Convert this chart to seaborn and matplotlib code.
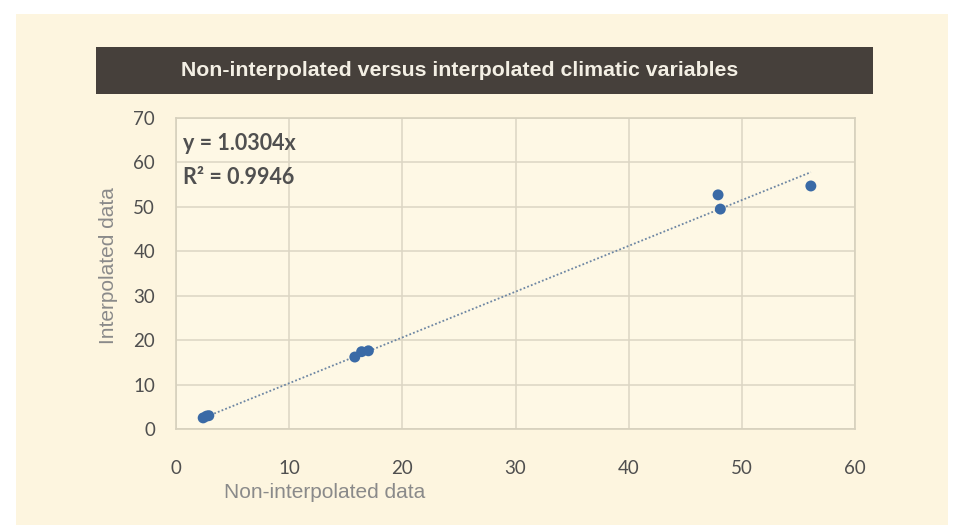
import matplotlib.pyplot as plt
import numpy as np
import pandas as pd
import seaborn as sns
from matplotlib.patches import Rectangle

# values
non_interp = [2.4, 2.7, 2.9, 15.8, 16.4, 17.0, 47.9, 48.1, 56.1]
interp = [2.5, 2.9, 3.0, 16.2, 17.4, 17.6, 52.7, 49.5, 54.7]
slope = 1.0304
r2 = 0.9946
x_ticks = [0, 10, 20, 30, 40, 50, 60]
y_ticks = [0, 10, 20, 30, 40, 50, 60, 70]

df = pd.DataFrame({'x': non_interp, 'y': interp})

sns.set_theme(style='whitegrid')
plt.rcParams['font.family'] = ['Lato', 'DejaVu Sans']

fig = plt.figure(figsize=(9.57, 5.25), dpi=100)
fig.patch.set_facecolor('white')

# cream page background
fig.patches.append(Rectangle((16 / 957, 0), 932 / 957, 511 / 525,
                             transform=fig.transFigure, facecolor='#fdf5df',
                             edgecolor='none', zorder=0))
# dark title bar
fig.patches.append(Rectangle((96 / 957, 431 / 525), 777 / 957, 47 / 525,
                             transform=fig.transFigure, facecolor='#46403b',
                             edgecolor='none', zorder=1))
fig.text(460 / 957, 454 / 525, 'Non-interpolated versus interpolated climatic variables',
         color='#f3efe4', fontsize=15.3, fontweight='bold', family='Liberation Sans',
         ha='center', va='center', zorder=2)

ax = fig.add_axes([176 / 957, 96 / 525, 679 / 957, 311 / 525])
ax.set_zorder(5)
ax.set_facecolor('#fef8e5')

# trendline through origin
xl = np.array([min(non_interp), max(non_interp)])
ax.plot(xl, slope * xl, linestyle=(0, (1, 1.2)), color='#6d86a3', linewidth=1.3, zorder=2)

sns.scatterplot(data=df, x='x', y='y', ax=ax, color='#3a6aa6', s=62,
                edgecolor='none', zorder=3)

ax.set_xlim(0, 60)
ax.set_ylim(0, 70)
ax.set_xticks(x_ticks)
ax.set_yticks(y_ticks)
ax.grid(True, color='#dcd6c4', linewidth=1.1)
for side in ['top', 'right', 'bottom', 'left']:
    ax.spines[side].set_color('#d6d0bd')
    ax.spines[side].set_linewidth(1.2)
ax.tick_params(axis='both', labelsize=13.5, labelcolor='#4f4f4f', length=0)
ax.tick_params(axis='x', pad=22)
ax.tick_params(axis='y', pad=15)

ax.set_xlabel('Non-interpolated data', fontsize=15, color='#8a8a8a',
              family='Liberation Sans')
ax.xaxis.set_label_coords(0.219, -0.175)
ax.set_ylabel('Interpolated data', fontsize=15, color='#8a8a8a',
              family='Liberation Sans')
ax.yaxis.set_label_coords(-0.085, 0.524)

ax.text(0.01, 0.917, f'y = {slope}x', transform=ax.transAxes, fontsize=15.5,
        fontweight='bold', color='#505050', va='center')
ax.text(0.01, 0.81, f'R² = {r2}', transform=ax.transAxes, fontsize=15.5,
        fontweight='bold', color='#505050', va='center')

fig.savefig('out.png', dpi=100)
